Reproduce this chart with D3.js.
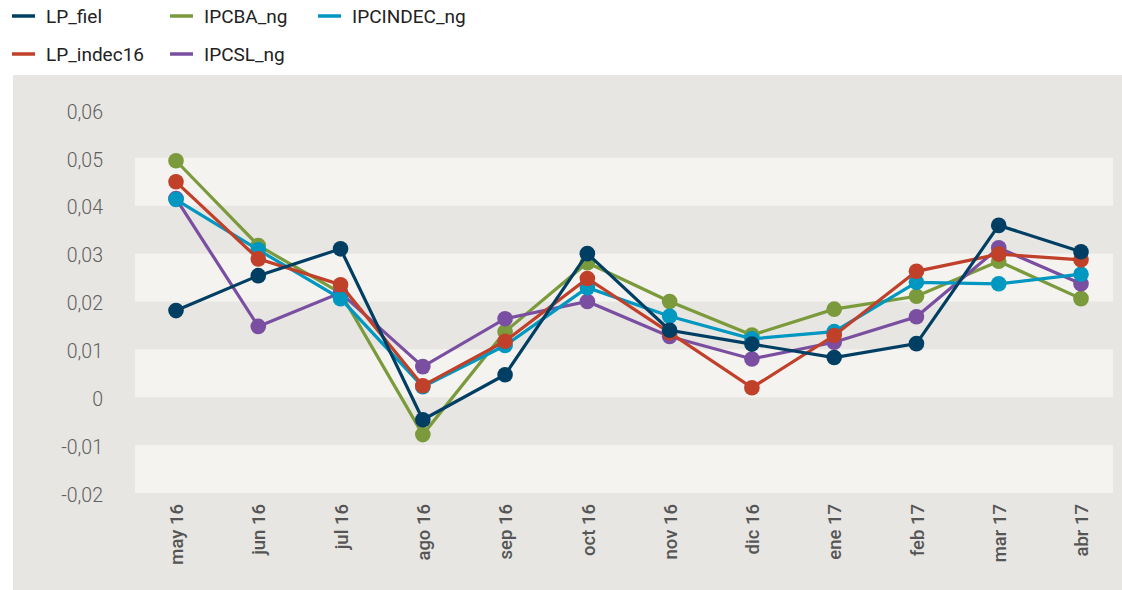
<!DOCTYPE html>
<html>
<head>
<meta charset="utf-8">
<script src="https://cdn.jsdelivr.net/npm/d3@7"></script>
<style>
  body { margin: 0; background: #fff; }
  svg { display: block; font-family: Roboto, "DejaVu Sans", sans-serif; }
</style>
</head>
<body>
<svg id="chart" width="1122" height="590"></svg>
<script>
// data
const months = ["may 16", "jun 16", "jul 16", "ago 16", "sep 16", "oct 16",
                "nov 16", "dic 16", "ene 17", "feb 17", "mar 17", "abr 17"];
const LP_fiel     = [0.0181, 0.0254, 0.0310, -0.0047, 0.0047, 0.0300, 0.0140, 0.0111, 0.0083, 0.0112, 0.0359, 0.0304];
const LP_indec16  = [0.0450, 0.0289, 0.0235, 0.0024, 0.0117, 0.0248, 0.0135, 0.0020, 0.0129, 0.0263, 0.0299, 0.0287];
const IPCBA_ng    = [0.0494, 0.0317, 0.0218, -0.0078, 0.0137, 0.0281, 0.0200, 0.0130, 0.0184, 0.0211, 0.0284, 0.0206];
const IPCSL_ng    = [0.0415, 0.0148, 0.0218, 0.0064, 0.0164, 0.0200, 0.0127, 0.0080, 0.0115, 0.0168, 0.0312, 0.0237];
const IPCINDEC_ng = [0.0413, 0.0308, 0.0206, 0.0022, 0.0108, 0.0229, 0.0169, 0.0122, 0.0137, 0.0240, 0.0237, 0.0257];
const yTicks = [-0.02, -0.01, 0, 0.01, 0.02, 0.03, 0.04, 0.05, 0.06];

const series = [
  {name: "LP_fiel", values: LP_fiel, color: "#003f63"},
  {name: "LP_indec16", values: LP_indec16, color: "#c1402a"},
  {name: "IPCBA_ng", values: IPCBA_ng, color: "#7a9a3c"},
  {name: "IPCSL_ng", values: IPCSL_ng, color: "#7a4ea0"},
  {name: "IPCINDEC_ng", values: IPCINDEC_ng, color: "#0097c0"},
];
// draw order (last on top)
const drawOrder = ["IPCBA_ng", "IPCSL_ng", "IPCINDEC_ng", "LP_indec16", "LP_fiel"];

const svg = d3.select("#chart");
const m = {left: 135, right: 1113, top: 110, bottom: 493};

// panel background
svg.append("rect")
    .attr("x", 13).attr("y", 75)
    .attr("width", 1122 - 13).attr("height", 590 - 75)
    .attr("fill", "#e7e6e2");

const x = d3.scalePoint().domain(months).range([176, 1081]);
const y = d3.scaleLinear().domain([-0.02, 0.06]).range([m.bottom, m.top]);

// alternating bands
const bands = [[0.04, 0.05], [0.02, 0.03], [0, 0.01], [-0.02, -0.01]];
svg.append("g").selectAll("rect")
    .data(bands)
    .join("rect")
    .attr("x", m.left)
    .attr("width", m.right - m.left)
    .attr("y", d => y(d[1]))
    .attr("height", d => y(d[0]) - y(d[1]))
    .attr("fill", "#f4f3f0");

// y axis
const fmt = v => v === 0 ? "0" : d3.format(".2f")(v).replace(".", ",").replace("−", "-");
const yAxis = svg.append("g")
    .attr("transform", "translate(103,0)")
    .call(d3.axisLeft(y).tickValues(yTicks).tickFormat(fmt).tickSize(0).tickPadding(0));
yAxis.select(".domain").remove();
yAxis.selectAll("text")
    .attr("dy", "0.42em")
    .attr("font-size", 19.5)
    .attr("fill", "#606060")
    .attr("font-family", "Roboto, sans-serif")
    .attr("font-weight", 300);

// x axis
const xAxis = svg.append("g")
    .attr("transform", `translate(0,${m.bottom})`)
    .call(d3.axisBottom(x).tickSize(0).tickPadding(0));
xAxis.select(".domain").remove();
xAxis.selectAll("text")
    .attr("transform", "rotate(-90)")
    .attr("text-anchor", "end")
    .attr("x", -11)
    .attr("y", 0)
    .attr("dy", "0.36em")
    .attr("font-size", 18.5)
    .attr("font-weight", 500)
    .attr("fill", "#555")
    .attr("font-family", "Roboto, sans-serif");

// lines + dots
const line = d3.line().x((d, i) => x(months[i])).y(d => y(d));
for (const name of drawOrder) {
  const s = series.find(d => d.name === name);
  const g = svg.append("g");
  g.append("path")
      .datum(s.values)
      .attr("fill", "none")
      .attr("stroke", s.color)
      .attr("stroke-width", 3.2)
      .attr("d", line);
  g.selectAll("circle")
      .data(s.values)
      .join("circle")
      .attr("cx", (d, i) => x(months[i]))
      .attr("cy", d => y(d))
      .attr("r", 7.8)
      .attr("fill", s.color);
}

// legend
const legendPos = [
  {name: "LP_fiel", x: 12, y: 16},
  {name: "IPCBA_ng", x: 170, y: 16},
  {name: "IPCINDEC_ng", x: 318, y: 16},
  {name: "LP_indec16", x: 12, y: 54},
  {name: "IPCSL_ng", x: 170, y: 54},
];
const lg = svg.append("g").selectAll("g")
    .data(legendPos)
    .join("g")
    .attr("transform", d => `translate(${d.x},${d.y})`);
lg.append("line")
    .attr("x1", 0).attr("x2", 23)
    .attr("stroke", d => series.find(s => s.name === d.name).color)
    .attr("stroke-width", 3.5);
lg.append("text")
    .attr("x", 34)
    .attr("dy", "0.36em")
    .attr("font-size", 19)
    .attr("fill", "#222")
    .text(d => d.name);
</script>
</body>
</html>
